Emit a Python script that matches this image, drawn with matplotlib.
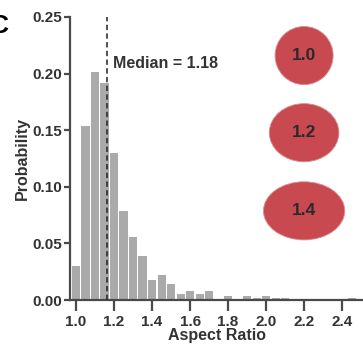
import matplotlib
matplotlib.use("Agg")
import matplotlib.pyplot as plt
from matplotlib.patches import Ellipse
import numpy as np

plt.rcParams['font.family'] = ['Liberation Sans', 'DejaVu Sans']
plt.rcParams['font.weight'] = 'bold'

bin_centers = [1.00, 1.05, 1.10, 1.15, 1.20, 1.25, 1.30, 1.35, 1.40, 1.45,
               1.50, 1.55, 1.60, 1.65, 1.70, 1.75, 1.80, 1.85, 1.90, 1.95,
               2.00, 2.05, 2.10, 2.15, 2.20, 2.25, 2.30, 2.35, 2.40, 2.45, 2.50]
probability = [0.030, 0.154, 0.201, 0.192, 0.130, 0.079, 0.056, 0.039, 0.018, 0.022,
               0.014, 0.005, 0.008, 0.005, 0.008, 0.001, 0.0035, 0.001, 0.0035, 0.002,
               0.0035, 0.002, 0.002, 0.0, 0.0, 0.0, 0.001, 0.0, 0.001, 0.002, 0.001]
median_x = 1.163
median_label = "Median = 1.18"
shape_ratios = [1.0, 1.2, 1.4]
shape_labels = ["1.0", "1.2", "1.4"]
x_ticks = [1.0, 1.2, 1.4, 1.6, 1.8, 2.0, 2.2, 2.4]
y_ticks = [0.00, 0.05, 0.10, 0.15, 0.20, 0.25]

W, H = 363, 354
fig = plt.figure(figsize=(W / 100, H / 100), dpi=100)
ax = fig.add_axes([70 / W, 1 - 300 / H, 1 - 70 / W, (300 - 17) / H])

axis_col = '#4a4a4a'
text_col = '#333333'

ax.bar(bin_centers, probability, width=0.043, color='#aaaaaa', edgecolor='none', zorder=2)
ax.plot([median_x, median_x], [0, 0.25], color='#222222', lw=1.1, ls=(0, (3.5, 2.2)), zorder=3,
        clip_on=False)
ax.text(median_x + 0.03, 0.2085, median_label, fontsize=11.5, fontweight='bold', color=text_col,
        va='center', ha='left')

ax.set_xlim(0.968, 2.51)
ax.set_ylim(0, 0.25)
ax.set_xticks(x_ticks)
ax.set_xticklabels([f"{t:.1f}" for t in x_ticks])
ax.set_yticks(y_ticks)
ax.set_yticklabels([f"{t:.2f}" for t in y_ticks])

for s in ['top', 'right']:
    ax.spines[s].set_visible(False)
for s in ['left', 'bottom']:
    ax.spines[s].set_color(axis_col)
    ax.spines[s].set_linewidth(1.6)

ax.tick_params(axis='x', length=8, width=1.6, color=axis_col, labelsize=11, labelcolor=text_col, pad=3)
ax.tick_params(axis='y', length=4.5, width=1.6, color=axis_col, labelsize=11, labelcolor=text_col, pad=1)
for lab in ax.get_xticklabels() + ax.get_yticklabels():
    lab.set_fontweight('bold')

ax.set_xlabel("Aspect Ratio", fontsize=11.5, fontweight='bold', color=text_col, labelpad=-1)
ax.set_ylabel("Probability", fontsize=11.5, fontweight='bold', color=text_col, labelpad=2)

# ellipses in data coordinates
px_x = 1 / 190.0
px_y = 1 / 1130.0
centers_y_px = [56, 133, 211]
base_h_px = 58
for r, lab, cy in zip(shape_ratios, shape_labels, centers_y_px):
    cx = 2.2
    yy = (300 - cy) * px_y
    e = Ellipse((cx, yy), width=r * base_h_px * px_x, height=base_h_px * px_y,
                facecolor='#c84a50', edgecolor='#d98a8c', lw=0.6, zorder=4, clip_on=False)
    ax.add_patch(e)
    ax.text(cx, yy, lab, ha='center', va='center', fontsize=12.5, fontweight='bold',
            color='#2a2a2a', zorder=5)

fig.text(9 / W, 1 - 33 / H, "C", fontsize=19, fontweight='bold', color='black',
         ha='right', va='baseline')

fig.savefig("out.png", dpi=100)
